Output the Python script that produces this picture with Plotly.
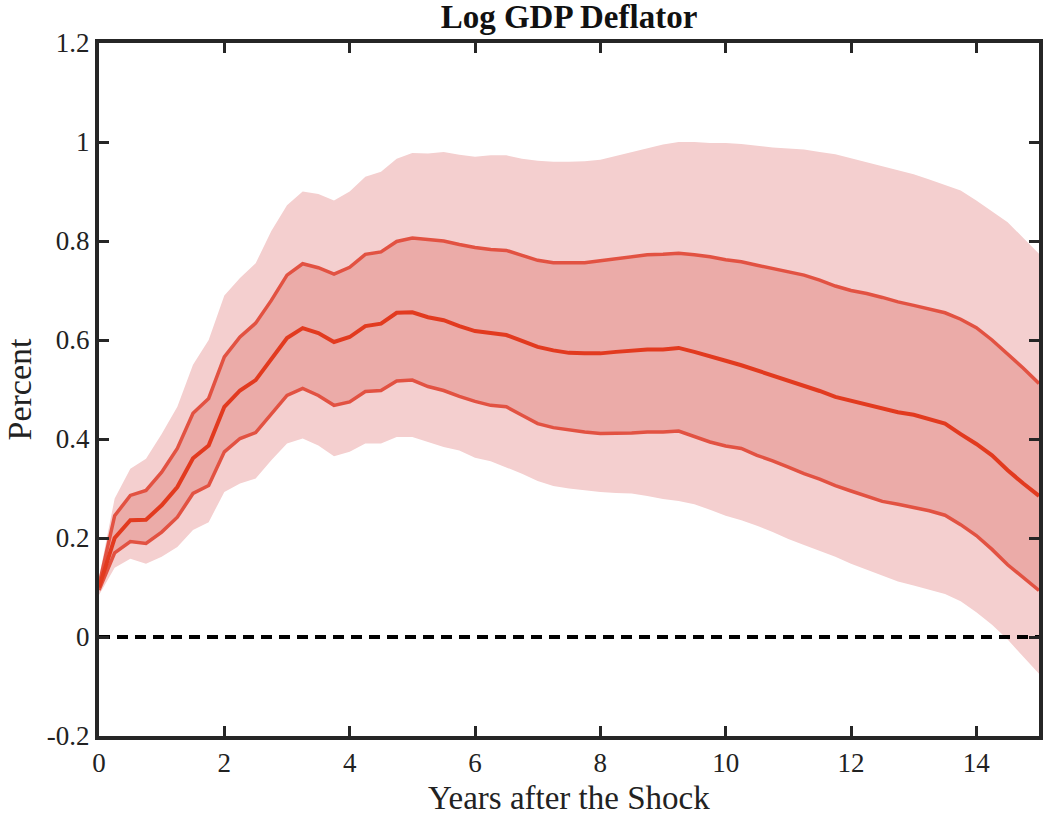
import plotly.graph_objects as go

# Horizon in years (quarterly steps 0..15)
years = [q / 4 for q in range(61)]

median = [0.100, 0.200, 0.236, 0.237, 0.266, 0.303, 0.361, 0.387, 0.465, 0.498,
          0.519, 0.563, 0.604, 0.624, 0.614, 0.596, 0.606, 0.628, 0.633, 0.655,
          0.656, 0.646, 0.640, 0.628, 0.618, 0.614, 0.610, 0.598, 0.586, 0.579,
          0.574, 0.573, 0.573, 0.576, 0.579, 0.581, 0.581, 0.584, 0.576, 0.566,
          0.558, 0.549, 0.539, 0.529, 0.519, 0.509, 0.497, 0.485, 0.477, 0.469,
          0.461, 0.454, 0.449, 0.440, 0.431, 0.410, 0.390, 0.367, 0.337, 0.310,
          0.285]

inner_hi = [0.105, 0.245, 0.286, 0.296, 0.333, 0.381, 0.452, 0.482, 0.566, 0.606,
            0.634, 0.680, 0.731, 0.754, 0.746, 0.733, 0.747, 0.773, 0.778, 0.799,
            0.806, 0.803, 0.800, 0.793, 0.787, 0.783, 0.781, 0.771, 0.761, 0.756,
            0.756, 0.756, 0.760, 0.764, 0.769, 0.772, 0.773, 0.775, 0.772, 0.768,
            0.762, 0.758, 0.751, 0.744, 0.737, 0.731, 0.721, 0.709, 0.700, 0.694,
            0.686, 0.677, 0.670, 0.663, 0.655, 0.642, 0.625, 0.600, 0.572, 0.543,
            0.512]

inner_lo = [0.095, 0.170, 0.193, 0.189, 0.212, 0.242, 0.290, 0.306, 0.374, 0.401,
            0.413, 0.451, 0.488, 0.502, 0.488, 0.468, 0.475, 0.496, 0.498, 0.517,
            0.519, 0.506, 0.498, 0.486, 0.476, 0.468, 0.465, 0.448, 0.431, 0.423,
            0.418, 0.414, 0.411, 0.411, 0.412, 0.414, 0.414, 0.416, 0.405, 0.394,
            0.386, 0.381, 0.367, 0.356, 0.343, 0.330, 0.319, 0.306, 0.295, 0.284,
            0.274, 0.268, 0.262, 0.255, 0.246, 0.227, 0.205, 0.177, 0.146, 0.121,
            0.094]

outer_hi = [0.120, 0.280, 0.340, 0.360, 0.410, 0.465, 0.550, 0.600, 0.690, 0.725,
            0.755, 0.820, 0.872, 0.900, 0.895, 0.882, 0.900, 0.930, 0.940, 0.966,
            0.978, 0.977, 0.980, 0.974, 0.970, 0.973, 0.973, 0.966, 0.962, 0.960,
            0.960, 0.961, 0.964, 0.972, 0.980, 0.988, 0.995, 1.000, 1.000, 0.998,
            0.998, 0.996, 0.992, 0.989, 0.987, 0.985, 0.980, 0.975, 0.967, 0.959,
            0.950, 0.942, 0.935, 0.924, 0.913, 0.902, 0.882, 0.860, 0.838, 0.806,
            0.774]

outer_lo = [0.085, 0.140, 0.158, 0.148, 0.162, 0.182, 0.216, 0.232, 0.293, 0.310,
            0.320, 0.357, 0.391, 0.401, 0.387, 0.365, 0.374, 0.391, 0.391, 0.404,
            0.404, 0.394, 0.384, 0.377, 0.362, 0.355, 0.343, 0.330, 0.315, 0.305,
            0.300, 0.296, 0.293, 0.291, 0.290, 0.285, 0.279, 0.275, 0.268, 0.257,
            0.245, 0.236, 0.225, 0.212, 0.198, 0.186, 0.174, 0.162, 0.148, 0.136,
            0.124, 0.112, 0.104, 0.096, 0.087, 0.072, 0.050, 0.025, -0.005, -0.040,
            -0.074]

x_ticks = [0, 2, 4, 6, 8, 10, 12, 14]
x_ticktext = ["0", "2", "4", "6", "8", "10", "12", "14"]
y_ticks = [-0.2, 0, 0.2, 0.4, 0.6, 0.8, 1.0, 1.2]
y_ticktext = ["-0.2", "0", "0.2", "0.4", "0.6", "0.8", "1", "1.2"]

OUTER_FILL = "#F4CFCF"
INNER_FILL = "#EBABA8"
BAND_LINE = "#E25242"
MED_LINE = "#E23A1F"
AXIS = "#262626"
FONT = "Liberation Serif"

fig = go.Figure()
fig.add_trace(go.Scatter(x=years, y=outer_lo, mode="lines", line=dict(width=0),
                         showlegend=False, hoverinfo="skip"))
fig.add_trace(go.Scatter(x=years, y=outer_hi, mode="lines", line=dict(width=0),
                         fill="tonexty", fillcolor=OUTER_FILL, showlegend=False, hoverinfo="skip"))
fig.add_trace(go.Scatter(x=years, y=inner_lo, mode="lines", line=dict(width=0),
                         showlegend=False, hoverinfo="skip"))
fig.add_trace(go.Scatter(x=years, y=inner_hi, mode="lines", line=dict(width=0),
                         fill="tonexty", fillcolor=INNER_FILL, showlegend=False, hoverinfo="skip"))
fig.add_trace(go.Scatter(x=years, y=inner_hi, mode="lines", line=dict(color=BAND_LINE, width=3.5),
                         showlegend=False))
fig.add_trace(go.Scatter(x=years, y=inner_lo, mode="lines", line=dict(color=BAND_LINE, width=3.5),
                         showlegend=False))
fig.add_trace(go.Scatter(x=years, y=median, mode="lines", line=dict(color=MED_LINE, width=4),
                         showlegend=False))
fig.add_trace(go.Scatter(x=[years[0], years[-1]], y=[0, 0], mode="lines",
                         line=dict(color="black", width=4, dash="11px,7px"), showlegend=False))

axis_common = dict(showline=True, linewidth=4, linecolor=AXIS, mirror="ticks",
                   ticks="inside", ticklen=10, tickwidth=3, tickcolor=AXIS,
                   showgrid=False, zeroline=False,
                   tickfont=dict(family=FONT, size=27, color="#222222"))

fig.update_layout(
    width=1050, height=819,
    margin=dict(l=99, r=7, t=43, b=83),
    paper_bgcolor="white", plot_bgcolor="white",
    title=dict(text="<b>Log GDP Deflator</b>", x=0.5, xref="paper", xanchor="center",
               y=1 - 16 / 819, yref="container", yanchor="middle",
               font=dict(family=FONT, size=33, color="#111111")),
    xaxis=dict(range=[0, 15], tickvals=x_ticks, ticktext=x_ticktext, **axis_common),
    yaxis=dict(range=[-0.2, 1.2], tickvals=y_ticks, ticktext=y_ticktext, **axis_common),
    annotations=[
        dict(text="Years after the Shock", xref="paper", yref="paper", x=0.5, y=0,
             xanchor="center", yanchor="middle", yshift=-62, showarrow=False,
             font=dict(family=FONT, size=33, color="#222222")),
        dict(text="Percent", xref="paper", yref="paper", x=0, y=0.5,
             xanchor="center", yanchor="middle", xshift=-80, textangle=-90, showarrow=False,
             font=dict(family=FONT, size=34, color="#222222")),
    ],
)

fig.write_html("out.html")
